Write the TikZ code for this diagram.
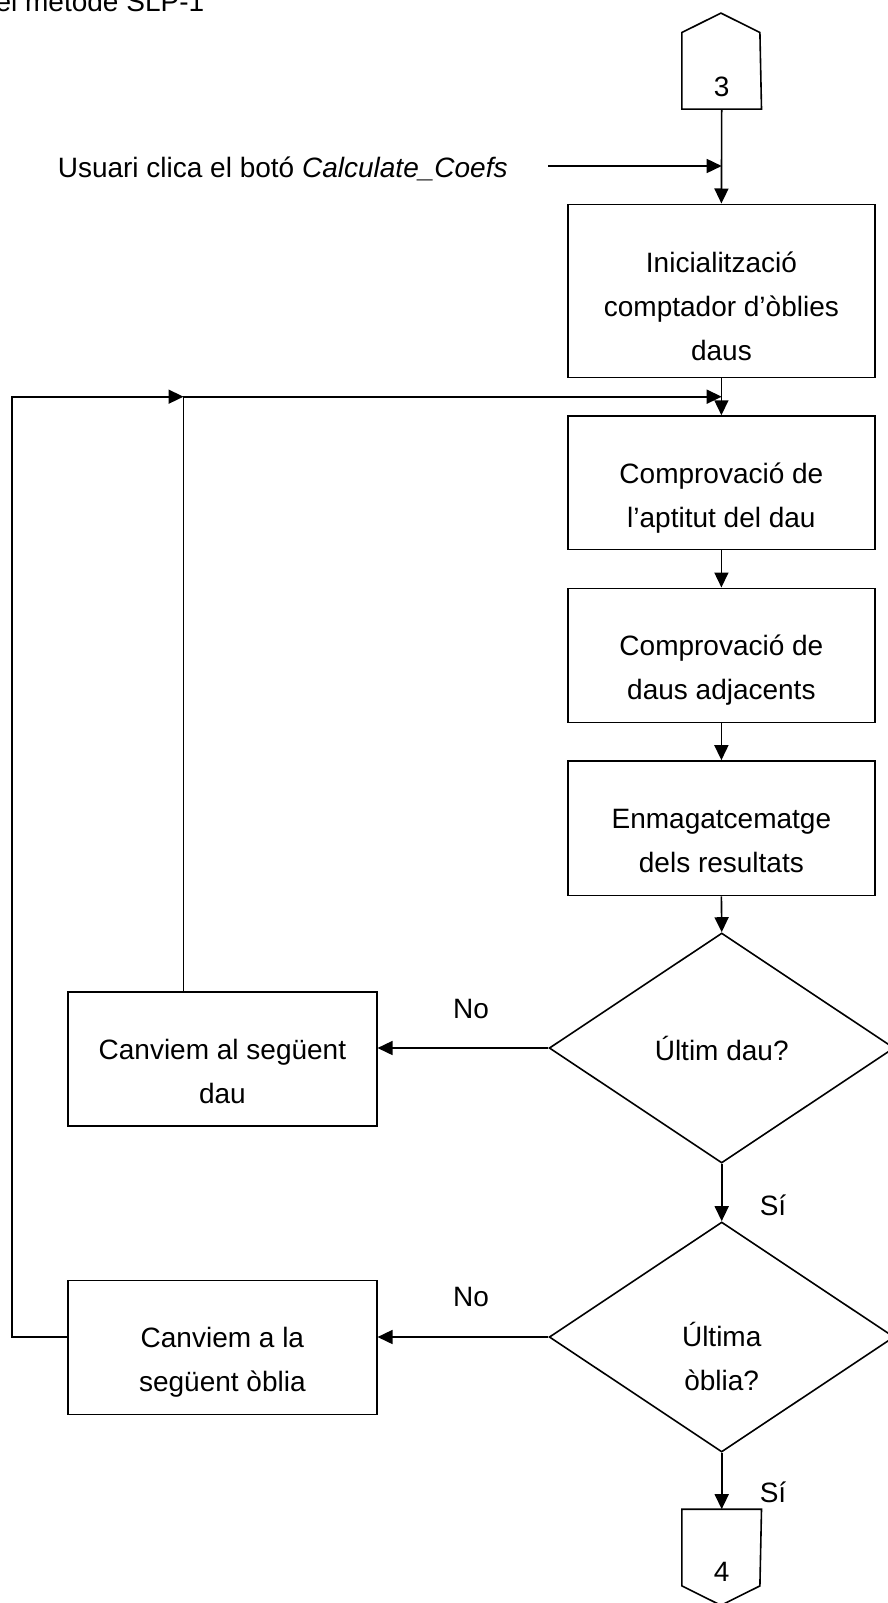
\documentclass[tikz,border=0pt]{standalone}
\usepackage{fontspec}
\setmainfont{Liberation Sans}
\usetikzlibrary{shapes.geometric,arrows.meta}

\begin{document}
\begin{tikzpicture}[x=1pt, y=-1pt, line width=1.6pt, >={Triangle[length=15pt,width=14pt]},
        every node/.style={font=\fontsize{28}{44}\selectfont, inner sep=0pt},
        proc/.style={draw, rectangle, minimum width=307.3pt, minimum height=134pt, align=center, text height=94.6pt, text depth=6pt},
        side/.style={proc, minimum width=308.7pt},
        deci/.style={draw, diamond, minimum width=345pt, minimum height=230pt, align=center},
        conn/.style={minimum width=78pt}]
                \useasboundingbox (0,0) rectangle (887,1603);
                \node[anchor=base east] (title) at (205,12) {del mètode SLP-1};
                % connectors
                \node[conn, minimum height=42.6pt] (c3) at (721.7,87) {3};
                \draw (c3.south west) -- ++(0,-76.6) -- ++(39,-19.4) -- ++(39,19.4) -- (c3.south east) -- cycle;
                \node[conn, minimum height=124pt] (c4) at (721.7,1572) {4};
                \draw (c4.north west) -- ++(0,76.7) -- ++(39,19.4) -- ++(39,-19.4) -- (c4.north east) -- cycle;
                % main column
                \node[proc, minimum height=173pt, text height=145pt] (init) at (721.4,290.8) {Inicialització\\comptador d’òblies\\daus};
                \node[proc, minimum height=133.3pt] (apt) at (721.4,482.7) {Comprovació de\\l’aptitut del dau};
                \node[proc] (adj) at (721.4,655.3) {Comprovació de\\daus adjacents};
                \node[proc, minimum height=134.7pt] (res) at (721.4,828.3) {Enmagatcematge\\dels resultats};
                \node[deci] (last1) at (721.7,1048) {Últim dau?};
                \node[deci, text height=112pt, text depth=6pt] (last2) at (721.7,1337) {Última\\òblia?};
                % left column
                \node[side] (nxtd) at (222.4,1059) {Canviem al següent\\dau};
                \node[side] (nxto) at (222.4,1347.5) {Canviem a la\\següent òblia};
                % texts
                \node[anchor=base west] (user) at (57,177.5) {Usuari clica el botó \textit{Calculate\_Coefs}};
                \node (no1) at (471,1009) {No};
                \node (no2) at (471,1297) {No};
                \node (si1) at (773,1205) {Sí};
                \node (si2) at (773,1492) {Sí};
                % junctions
                \coordinate (ustart) at (548,166);
                \coordinate (j0) at (721.7,166);
                \coordinate (j1) at (721.7,396.7);
                \coordinate (j2) at (183.5,396.7);
                \coordinate (l0) at (11.8,396.7);
                \begin{scope}[every path/.style={->}]
                        \draw (c3.south) -- (init.north);
                        \draw (ustart) -- (j0);
                        \draw (init.south) -- (apt.north);
                        \draw (apt.south) -- (adj.north);
                        \draw (adj.south) -- (res.north);
                        \draw (res.south) -- (last1.north);
                        \draw (last1.west) -- (last1.west -| nxtd.east);
                        \draw (last1.south) -- (last2.north);
                        \draw (last2.west) -- (last2.west -| nxto.east);
                        \draw (last2.south) -- (c4.north);
                        \draw (j2 |- nxtd.north) -- (j2) -- (j1);
                        \draw (last2.west -| nxto.west) -- (last2.west -| l0) -- (l0) -- (j2);
                \end{scope}
        \end{tikzpicture}
\end{document}
